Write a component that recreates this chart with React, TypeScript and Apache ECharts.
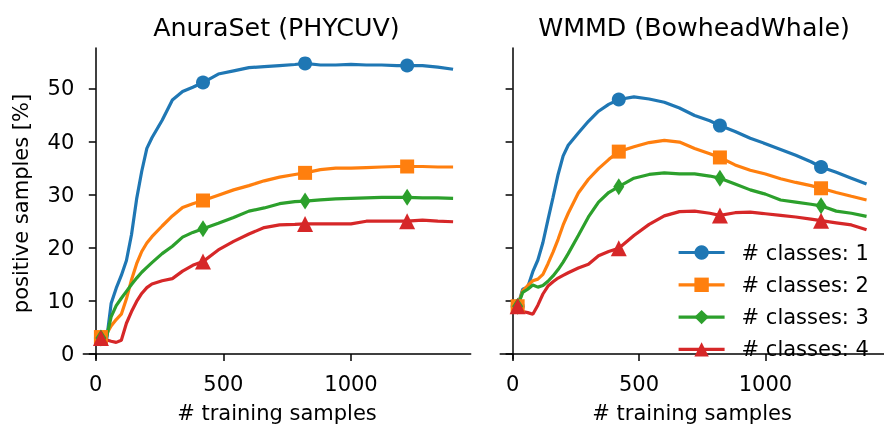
import React, { useEffect, useRef } from "react";
import * as echarts from "echarts";

// training sample counts (x values)
const XS = [20, 40, 60, 80, 100, 120, 140, 160, 180, 200, 220, 260, 300, 340, 380, 420, 480, 540, 600, 660, 720, 780, 820, 880, 940, 1000, 1060, 1120, 1180, 1220, 1280, 1340, 1400];
const MARKER_XS = [20, 420, 820, 1220];

const SERIES_NAMES = ["# classes: 1", "# classes: 2", "# classes: 3", "# classes: 4"];
const COLORS = ["#1f77b4", "#ff7f0e", "#2ca02c", "#d62728"];

// AnuraSet (PHYCUV)
const anura1 = [3.0, 1.8, 9.5, 12.4, 14.8, 17.6, 22.5, 29.2, 34.4, 38.7, 40.7, 44.0, 47.8, 49.4, 50.2, 51.1, 52.7, 53.3, 53.9, 54.1, 54.3, 54.5, 54.7, 54.4, 54.4, 54.5, 54.4, 54.4, 54.3, 54.3, 54.3, 54.0, 53.6];
const anura2 = [3.2, 3.6, 5.3, 6.5, 7.5, 10.4, 14.0, 17.0, 19.3, 20.9, 22.1, 24.1, 26.0, 27.6, 28.3, 28.9, 29.9, 30.9, 31.7, 32.6, 33.3, 33.8, 34.1, 34.7, 35.0, 35.0, 35.1, 35.2, 35.3, 35.3, 35.3, 35.2, 35.2];
const anura3 = [3.0, 2.7, 7.0, 9.1, 10.5, 11.8, 13.1, 14.3, 15.4, 16.3, 17.2, 18.9, 20.3, 22.0, 22.9, 23.6, 24.6, 25.7, 26.9, 27.5, 28.3, 28.7, 28.8, 29.0, 29.2, 29.3, 29.4, 29.5, 29.5, 29.5, 29.4, 29.4, 29.3];
const anura4 = [3.0, 2.7, 2.4, 2.2, 2.6, 5.8, 8.0, 9.9, 11.4, 12.5, 13.2, 13.8, 14.2, 15.6, 16.7, 17.4, 19.6, 21.2, 22.6, 23.8, 24.3, 24.4, 24.5, 24.5, 24.5, 24.5, 25.0, 25.0, 25.0, 25.0, 25.2, 25.0, 24.9];

// WMMD (BowheadWhale)
const wmmd1 = [9.0, 12.2, 12.6, 15.5, 17.7, 21.0, 25.3, 29.5, 33.8, 37.3, 39.3, 41.6, 43.8, 45.7, 47.0, 47.9, 48.4, 48.0, 47.4, 46.3, 44.9, 43.9, 43.0, 41.9, 40.6, 39.6, 38.5, 37.4, 36.2, 35.2, 34.2, 33.1, 32.0];
const wmmd2 = [9.0, 11.9, 12.9, 13.8, 14.1, 15.0, 17.0, 19.2, 21.6, 24.3, 26.5, 30.3, 32.9, 34.9, 36.6, 38.1, 39.0, 39.8, 40.2, 39.9, 38.7, 37.7, 37.0, 35.6, 34.6, 33.9, 33.0, 32.3, 31.7, 31.2, 30.4, 29.7, 29.0];
const wmmd3 = [9.0, 11.6, 12.2, 13.0, 12.6, 12.9, 13.7, 14.7, 15.9, 17.3, 18.9, 22.3, 25.8, 28.6, 30.4, 31.5, 33.1, 33.8, 34.1, 33.9, 33.9, 33.5, 33.1, 32.0, 30.9, 30.1, 29.0, 28.6, 28.2, 27.9, 26.9, 26.5, 25.9];
const wmmd4 = [9.0, 8.0, 7.8, 7.5, 9.2, 11.3, 12.8, 13.6, 14.3, 14.8, 15.3, 16.2, 16.9, 18.5, 19.3, 19.9, 22.3, 24.4, 26.0, 26.8, 26.9, 26.5, 26.1, 26.6, 26.7, 26.4, 26.1, 25.8, 25.4, 25.1, 24.7, 24.3, 23.4];

const X_TICKS = [0, 500, 1000];
const Y_TICKS = [0, 10, 20, 30, 40, 50];
const TITLES = ["AnuraSet (PHYCUV)", "WMMD (BowheadWhale)"];
const X_NAME = "# training samples";
const Y_NAME = "positive samples [%]";

const FONT = "DejaVu Sans";
const FS = 21;
const SYMBOLS = ["circle", "rect", "diamond", "triangle"];
const SYMBOL_SIZES: any[] = [14, 14, [11, 17], 16];

function buildData(ys: number[]) {
  return XS.map((x, i) =>
    MARKER_XS.includes(x) ? { value: [x, ys[i]] } : { value: [x, ys[i]], symbol: "none" }
  );
}

export default function App() {
  const ref = useRef<HTMLDivElement>(null);
  useEffect(() => {
    document.body.style.margin = "0";
    const chart = echarts.init(ref.current!, null, { renderer: "svg" });
    const axisLine = { show: true, lineStyle: { color: "#000", width: 1.5 } };
    const axisTick = { show: true, length: 7, lineStyle: { color: "#000", width: 1.5 } };
    const mkX = (gi: number) => ({
      type: "value",
      gridIndex: gi,
      min: -49,
      max: 1469,
      axisLine,
      axisTick: { ...axisTick, customValues: X_TICKS },
      axisLabel: { customValues: X_TICKS, formatter: (v: number) => String(v), fontSize: FS, color: "#000", fontFamily: FONT, margin: 14 },
      splitLine: { show: false },
      name: X_NAME,
      nameLocation: "middle",
      nameGap: 43,
      nameTextStyle: { fontSize: FS, color: "#000", fontFamily: FONT },
    });
    const mkY = (gi: number) => ({
      type: "value",
      gridIndex: gi,
      min: -0.93,
      max: 57.6,
      axisLine,
      axisTick: { ...axisTick, customValues: Y_TICKS },
      axisLabel: { show: gi === 0, customValues: Y_TICKS, formatter: (v: number) => String(v), fontSize: FS, color: "#000", fontFamily: FONT, margin: 9 },
      splitLine: { show: false },
      name: gi === 0 ? Y_NAME : "",
      nameLocation: "middle",
      nameGap: 52,
      nameTextStyle: { fontSize: FS, color: "#000", fontFamily: FONT },
    });
    const allData = [
      [anura1, anura2, anura3, anura4],
      [wmmd1, wmmd2, wmmd3, wmmd4],
    ];
    const series: any[] = [];
    allData.forEach((group, gi) => {
      group.forEach((ys, si) => {
        series.push({
          type: "line",
          name: SERIES_NAMES[si],
          xAxisIndex: gi,
          yAxisIndex: gi,
          data: buildData(ys),
          symbol: SYMBOLS[si],
          symbolSize: SYMBOL_SIZES[si],
          showAllSymbol: true,
          color: COLORS[si],
          itemStyle: { color: COLORS[si] },
          lineStyle: { color: COLORS[si], width: 3.2 },
          emphasis: { disabled: true },
        });
      });
    });
    const titleStyle = { fontSize: 25.3, fontWeight: "normal", color: "#000", fontFamily: FONT };
    chart.setOption({
      animation: false,
      title: [
        { text: TITLES[0], left: 276.5, top: 15, textAlign: "center", padding: 0, textStyle: titleStyle },
        { text: TITLES[1], left: 694, top: 15, textAlign: "center", padding: 0, textStyle: titleStyle },
      ],
      grid: [
        { left: 83.3, top: 48, width: 387.4, height: 313 },
        { left: 500.2, top: 48, width: 387.8, height: 313 },
      ],
      xAxis: [mkX(0), mkX(1)],
      yAxis: [mkY(0), mkY(1)],
      legend: {
        data: SERIES_NAMES,
        orient: "vertical",
        left: 677,
        top: 242,
        padding: 0,
        itemWidth: 46,
        itemHeight: 18,
        itemGap: 11.3,
        selectedMode: false,
        lineStyle: { width: 3.2 },
        textStyle: { fontSize: FS, color: "#000", fontFamily: FONT, lineHeight: 18, padding: [0, 0, 0, 12] },
      },
      series,
    });
    return () => chart.dispose();
  }, []);
  return <div ref={ref} style={{ position: "fixed", left: 0, top: 0, width: 884, height: 428 }} />;
}
